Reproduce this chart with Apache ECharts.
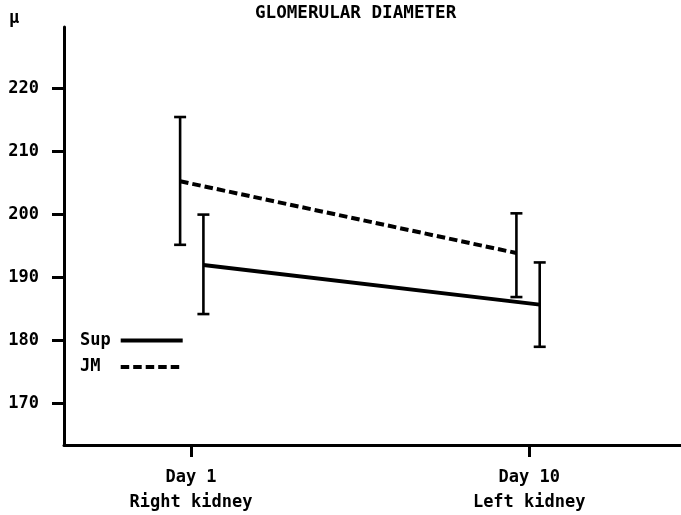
<!DOCTYPE html>
<html>
<head>
<meta charset="utf-8">
<script src="https://cdn.jsdelivr.net/npm/echarts@6/dist/echarts.min.js"></script>
<style>
  html, body { margin: 0; padding: 0; background: #fff; }
  #main { width: 681px; height: 515px; }
</style>
</head>
<body>
<div id="main"></div>
<script>
// x positions: Day 1 = 1, Day 10 = 10 (groups drawn slightly apart)
const dayTicks = [1, 10];
const dayLabels = ['Day 1\nRight kidney', 'Day 10\nLeft kidney'];
const yTicks = [170, 180, 190, 200, 210, 220];

const supX = [1.33, 10.28];
const supMean = [192.0, 185.7];
const supLow = [184.2, 179.0];
const supHigh = [200.0, 192.4];

const jmX = [0.71, 9.66];
const jmMean = [205.3, 193.9];
const jmLow = [195.2, 186.9];
const jmHigh = [215.5, 200.2];

var FONT = 'DejaVu Sans Mono';
var chart = echarts.init(document.getElementById('main'));

function pairs(xs, ys) {
  return xs.map(function (x, i) { return [x, ys[i]]; });
}
function bars(xs, lo, hi) {
  return xs.map(function (x, i) { return [x, lo[i], hi[i]]; });
}

// vertical error bar with small caps
function renderErr(params, api) {
  var top = api.coord([api.value(0), api.value(2)]);
  var bot = api.coord([api.value(0), api.value(1)]);
  var w = 6;
  var style = { stroke: '#000', lineWidth: 2.6 };
  return {
    type: 'group',
    children: [
      { type: 'line', shape: { x1: top[0], y1: top[1], x2: bot[0], y2: bot[1] }, style: style },
      { type: 'line', shape: { x1: top[0] - w, y1: top[1], x2: top[0] + w, y2: top[1] }, style: style },
      { type: 'line', shape: { x1: bot[0] - w, y1: bot[1], x2: bot[0] + w, y2: bot[1] }, style: style }
    ]
  };
}

var option = {
  animation: false,
  title: [
    {
      text: 'GLOMERULAR DIAMETER',
      left: 250,
      top: 0,
      textStyle: { fontFamily: FONT, fontWeight: 'bold', fontSize: 17.6, color: '#000', lineHeight: 17 }
    },
    {
      text: 'μ',
      left: 4,
      top: 5,
      textStyle: { fontFamily: FONT, fontWeight: 'bold', fontSize: 17, color: '#000', lineHeight: 17 }
    }
  ],
  legend: {
    orient: 'vertical',
    left: 80,
    top: 332,
    padding: 0,
    align: 'right',
    itemWidth: 62,
    itemHeight: 14,
    itemGap: 9.4,
    data: ['Sup', 'JM'],
    formatter: function (name) { return name === 'JM' ? 'JM ' : name; },
    itemStyle: { opacity: 0 },
    lineStyle: { width: 4, color: '#000' },
    textStyle: { fontFamily: FONT, fontWeight: 'bold', fontSize: 17, color: '#000', lineHeight: 14, padding: [0, 5, 0, 0] }
  },
  grid: {
    left: 64,
    right: 0,
    top: 27,
    bottom: 70
  },
  xAxis: {
    type: 'value',
    min: -2.38,
    max: 14.04,
    axisLine: { onZero: false, lineStyle: { color: '#000', width: 3 } },
    axisTick: { show: true, length: 12, customValues: dayTicks, lineStyle: { color: '#000', width: 3 } },
    splitLine: { show: false },
    axisLabel: {
      customValues: dayTicks,
      margin: 20,
      fontFamily: FONT,
      fontWeight: 'bold',
      fontSize: 17,
      lineHeight: 25,
      color: '#000',
      formatter: function (v) {
        var i = dayTicks.indexOf(v);
        return i >= 0 ? dayLabels[i] : '';
      }
    }
  },
  yAxis: {
    type: 'value',
    min: 163.4,
    max: 229.8,
    axisLine: { show: true, onZero: false, lineStyle: { color: '#000', width: 3 } },
    axisTick: { show: true, length: 12, customValues: yTicks, lineStyle: { color: '#000', width: 3 } },
    splitLine: { show: false },
    axisLabel: {
      customValues: yTicks,
      margin: 25,
      fontFamily: FONT,
      fontWeight: 'bold',
      fontSize: 17,
      color: '#000'
    }
  },
  series: [
    {
      name: 'Sup',
      type: 'line',
      data: pairs(supX, supMean),
      symbol: 'none',
      color: '#000',
      lineStyle: { color: '#000', width: 4 }
    },
    {
      name: 'JM',
      type: 'line',
      data: pairs(jmX, jmMean),
      symbol: 'none',
      color: '#000',
      lineStyle: { color: '#000', width: 4, type: [8.5, 4] }
    },
    {
      name: 'SupErr',
      type: 'custom',
      renderItem: renderErr,
      data: bars(supX, supLow, supHigh),
      z: 3
    },
    {
      name: 'JMErr',
      type: 'custom',
      renderItem: renderErr,
      data: bars(jmX, jmLow, jmHigh),
      z: 3
    }
  ]
};

chart.setOption(option);
</script>
</body>
</html>
